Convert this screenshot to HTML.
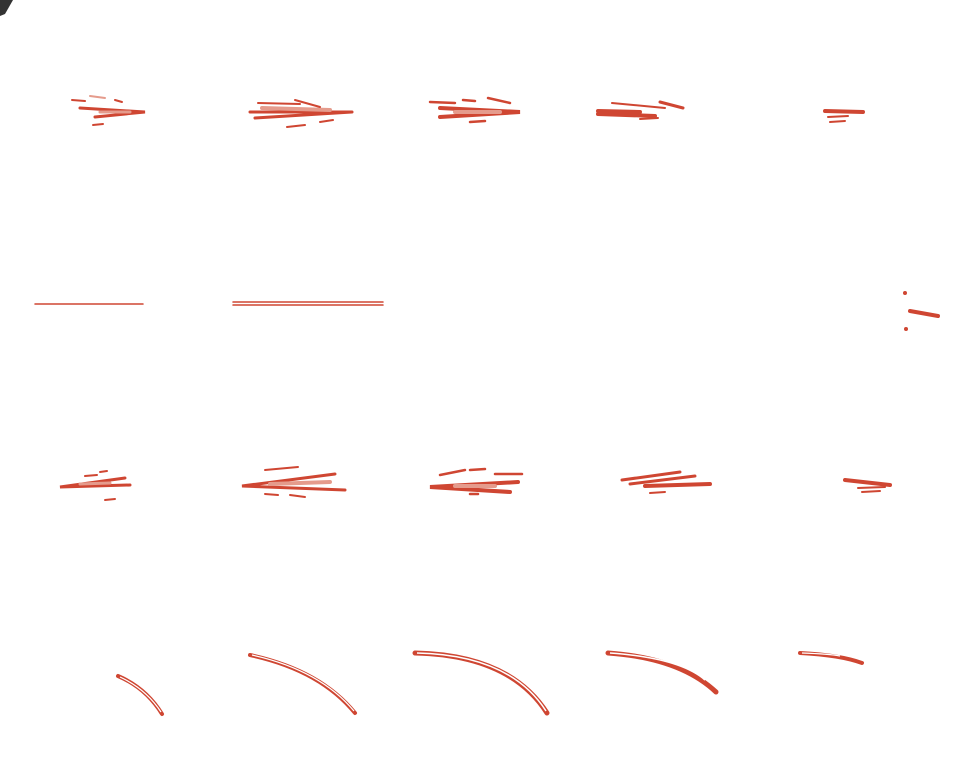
<!DOCTYPE html>
<html><head><meta charset="utf-8"><style>
html,body{margin:0;padding:0;background:#fff;width:960px;height:768px;overflow:hidden}
svg{display:block}
.s{stroke:#cf4632;stroke-linecap:round;fill:none}
.l{stroke:#e59b8c;stroke-linecap:round;fill:none}
</style></head><body>
<svg width="960" height="768" viewBox="0 0 960 768">
<polygon points="0,0 13,0 5,14 0,16" fill="#333"/>
<g>
 <g>
  <path class="s" stroke-width="3" d="M80 108 L145 112 L95 117"/><path class="l" stroke-width="3" d="M100 112 L130 112"/>
  <path class="s" stroke-width="2" d="M72 100 L85 101 M115 100 L122 102 M93 125 L103 124"/><path class="l" stroke-width="2" d="M90 96 L105 98"/>
 </g>
 <g>
  <path class="s" stroke-width="3" d="M250 112 L352 112 M255 118 L352 112"/><path class="l" stroke-width="4" d="M262 108 L330 110"/>
  <path class="s" stroke-width="2" d="M258 103 L300 104 M295 100 L320 107 M287 127 L305 125 M320 122 L333 120"/>
 </g>
 <g>
  <path class="s" stroke-width="4" d="M440 108 L520 112 L440 117"/><path class="l" stroke-width="4" d="M455 112 L500 112"/>
  <path class="s" stroke-width="2.5" d="M430 102 L455 103 M463 100 L475 101 M488 98 L510 103 M470 122 L485 121"/>
 </g>
 <g>
  <path class="s" stroke-width="4" d="M598 111 L640 112 M598 114 L655 116"/>
  <path class="s" stroke-width="2" d="M612 103 L665 108 M640 119 L658 118"/><path class="s" stroke-width="3" d="M660 102 L683 108"/>
 </g>
 <g>
  <path class="s" stroke-width="4" d="M825 111 L863 112"/><path class="s" stroke-width="2" d="M828 117 L848 116 M830 122 L845 121"/>
 </g>
</g>
<g>
 <path class="s" stroke-width="1.5" d="M35 304 L143 304"/>
 <path class="s" stroke-width="1.5" d="M233 302 L383 302 M233 305 L383 305"/>
 <g>
  <circle cx="905" cy="293" r="2" fill="#cf4632"/><path class="s" stroke-width="4" d="M910 311 L938 316"/><circle cx="906" cy="329" r="2" fill="#cf4632"/>
 </g>
</g>
<g>
 <g>
  <path class="s" stroke-width="3" d="M130 485 L60 487 L125 478"/><path class="l" stroke-width="3" d="M80 484 L110 483"/>
  <path class="s" stroke-width="2" d="M85 476 L97 475 M100 472 L107 471 M105 500 L115 499"/>
 </g>
 <g>
  <path class="s" stroke-width="3" d="M345 490 L242 486 L335 474"/><path class="l" stroke-width="4" d="M270 484 L330 482"/>
  <path class="s" stroke-width="2" d="M265 470 L298 467 M290 495 L305 497 M265 494 L278 495"/>
 </g>
 <g>
  <path class="s" stroke-width="4" d="M518 482 L430 487 L510 492"/><path class="l" stroke-width="4" d="M455 486 L495 486"/>
  <path class="s" stroke-width="2.5" d="M440 475 L465 470 M470 470 L485 469 M495 474 L522 474 M470 494 L478 494"/>
 </g>
 <g>
  <path class="s" stroke-width="3" d="M622 480 L680 472 M630 484 L695 476"/><path class="s" stroke-width="4" d="M645 486 L710 484"/>
  <path class="s" stroke-width="2" d="M650 493 L665 492"/>
 </g>
 <g>
  <path class="s" stroke-width="4" d="M845 480 L890 485"/><path class="s" stroke-width="2" d="M858 488 L885 487 M862 492 L880 491"/>
 </g>
</g>
<g>
 <g><path class="s" stroke-width="4" d="M118 676 Q146 688 162 714"/><path stroke="#fff" stroke-width="1.2" fill="none" d="M120 677 Q146 689 161 712"/></g>
 <g><path class="s" stroke-width="4" d="M250 655 Q320 670 355 713"/><path stroke="#fff" stroke-width="1.2" fill="none" d="M252 655 Q320 670 354 711"/></g>
 <g><path class="s" stroke-width="5" d="M415 653 Q510 655 547 713"/><path stroke="#fff" stroke-width="1.5" fill="none" d="M417 653 Q510 655 546 711"/></g>
 <g><path class="s" stroke-width="5" d="M608 653 Q680 658 716 692"/><path stroke="#fff" stroke-width="1.5" fill="none" d="M610 653 Q680 658 705 680"/></g>
 <g><path class="s" stroke-width="4" d="M800 653 Q840 655 862 663"/><path stroke="#fff" stroke-width="1.2" fill="none" d="M802 653 Q830 654 840 656"/></g>
</g>
</svg>
</body></html>
